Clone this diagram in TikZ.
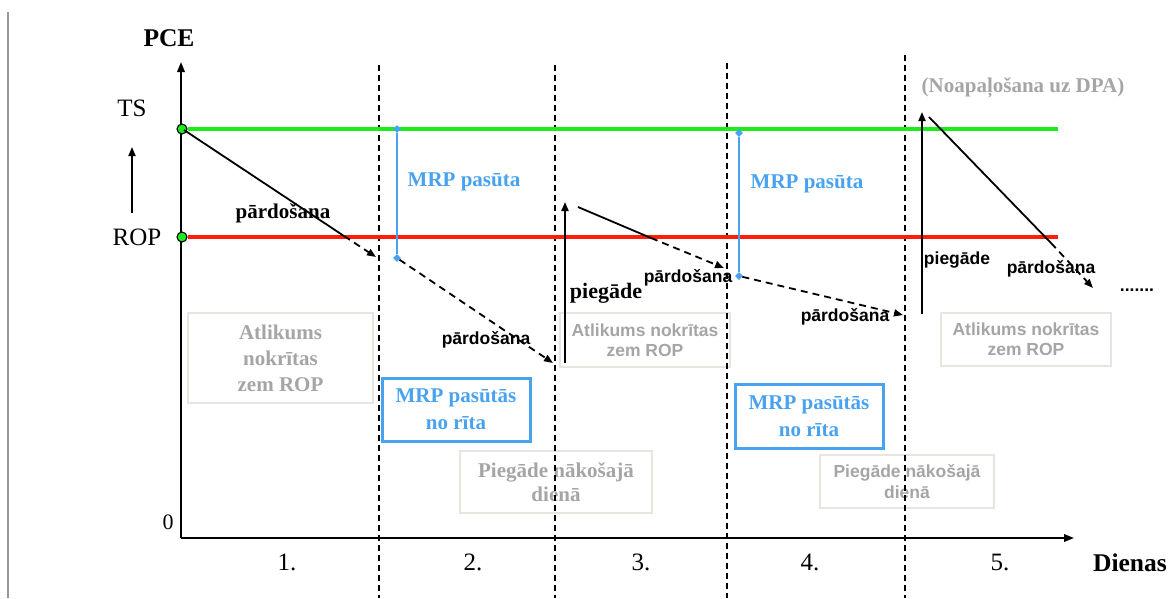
\documentclass[tikz,border=0pt]{standalone}
\usepackage{fontspec}
\setmainfont{Liberation Serif}
\newfontfamily\arialfont{Liberation Sans}
\usetikzlibrary{arrows.meta,shapes.geometric}
\definecolor{mrpblue}{RGB}{72,162,240}
\definecolor{tsgreen}{RGB}{30,235,30}
\definecolor{ropred}{RGB}{255,30,10}
\definecolor{notegray}{RGB}{165,165,165}
\definecolor{boxgray}{RGB}{232,229,225}
\definecolor{framegray}{RGB}{150,150,150}
\begin{document}
\begin{tikzpicture}[x=1pt,y=-1pt,
  tipped/.style={-{Triangle[length=9pt,width=7pt]}},
  axisline/.style={line width=1.9pt,-{Triangle[length=10pt,width=7.5pt]}},
  daysep/.style={line width=1.4pt,dash pattern=on 6pt off 4pt},
  saleline/.style={line width=1.8pt},
  saledash/.style={line width=1.8pt,dash pattern=on 7pt off 5pt,tipped},
  levelline/.style={line width=3.2pt},
  mrpline/.style={mrpblue,line width=2pt},
  mrpdot/.style={diamond,fill=mrpblue,inner sep=0pt,minimum size=8pt},
  levdot/.style={circle,draw=black,fill=tsgreen,line width=1.1pt,inner sep=0pt,minimum size=10pt},
  biglabel/.style={font=\fontsize{25}{28}\selectfont},
  serifbold/.style={font=\fontsize{21}{25}\selectfont\bfseries},
  sansbold/.style={font=\arialfont\fontsize{17.5}{20}\selectfont\bfseries},
  graynote/.style={draw=boxgray,line width=1.8pt,align=center,text=notegray,inner sep=0pt},
  mrpbox/.style={draw=mrpblue,line width=3pt,align=center,text=mrpblue,inner sep=0pt,
    font=\fontsize{21}{27}\selectfont\bfseries},
]
\useasboundingbox (0,0) rectangle (1173,598);

% frame edge on the left
\draw[framegray,line width=1.5pt] (8,12) -- (8,598);

% note boxes (drawn first so the day separators cross them)
\node[graynote,minimum width=185pt,minimum height=90pt,font=\fontsize{21}{26}\selectfont\bfseries]
  (noteA) at (280.5,358) {Atlikums\\nokrītas\\zem ROP};
\node[mrpbox,minimum width=148pt,minimum height=63pt] (orderA) at (456,409.5) {MRP pasūtās\\no rīta};
\node[graynote,minimum width=192pt,minimum height=62pt,font=\fontsize{21}{24}\selectfont\bfseries]
  (delivA) at (556,482) {Piegāde nākošajā\\dienā};
\node[graynote,minimum width=170pt,minimum height=54pt,font=\arialfont\fontsize{17.5}{20}\selectfont\bfseries]
  (noteB) at (645,340) {Atlikums nokrītas\\zem ROP};
\node[mrpbox,minimum width=148pt,minimum height=64pt] (orderB) at (809,416) {MRP pasūtās\\no rīta};
\node[graynote,minimum width=174pt,minimum height=53pt,font=\arialfont\fontsize{17.5}{21}\selectfont\bfseries]
  (delivB) at (907,481.5) {Piegāde nākošajā\\dienā};
\node[graynote,minimum width=170pt,minimum height=53pt,font=\arialfont\fontsize{17.5}{20}\selectfont\bfseries]
  (noteC) at (1026,339.5) {Atlikums nokrītas\\zem ROP};

% axes
\coordinate (origin) at (181,538);
\coordinate (ytop) at (181,62);
\coordinate (xend) at (1074,538);
\draw[axisline] (origin) -- (ytop);
\draw[axisline] (origin) -- (xend);

% day separators
\foreach \x/\top [count=\i] in {379/65,555/65,727/63,905/55}{
  \coordinate (sepT\i) at (\x,\top);
  \coordinate (sepB\i) at (\x,598);
  \draw[daysep] (sepT\i) -- (sepB\i);
}

% safety stock and reorder point levels
\node[levdot] (tsdot) at (182,129) {};
\node[levdot] (ropdot) at (182,237) {};
\coordinate (tsend) at (1058,129);
\coordinate (ropend) at (1058,237);
\draw[levelline,tsgreen] (tsdot.east) -- (tsend);
\draw[levelline,ropred] (ropdot.east) -- (ropend);

% axis and level labels
\node[font=\fontsize{25.5}{28}\selectfont\bfseries] (pce) at (169,38) {PCE};
\node[biglabel] (ts) at (132,108) {TS};
\node[biglabel] (rop) at (137,237) {ROP};
\coordinate (upA) at (132,213);
\coordinate (upB) at (132,147);
\draw[line width=1.8pt,tipped] (upA) -- (upB);
\node[font=\fontsize{22}{26}\selectfont] (zero) at (168,522) {0};
\foreach \x [count=\i] in {287,473,641,810,1000}{
  \node[font=\fontsize{25}{28}\selectfont] (day\i) at (\x,562) {\i.};
}
\node[font=\fontsize{25.5}{28}\selectfont\bfseries] (dienas) at (1130,563) {Dienas};

% day 1: sales from the safety stock level
\coordinate (s1a) at (184,130);
\coordinate (s1b) at (344,236);
\coordinate (s1c) at (376,257);
\draw[saleline] (s1a) -- (s1b);
\draw[saledash] (s1b) -- (s1c);
\node[serifbold] (sale1) at (283,213) {pārdošana};

% day 2: MRP order and further sales
\node[mrpdot] (m1t) at (397,129) {};
\node[mrpdot] (m1b) at (397,258) {};
\draw[mrpline] (m1t) -- (m1b);
\node[serifbold,text=mrpblue] (mrp1) at (464,182) {MRP pasūta};
\coordinate (s2c) at (553,363);
\draw[saledash] (m1b) -- (s2c);
\node[sansbold] (sale2) at (486,340) {pārdošana};

% day 3: delivery and sales
\coordinate (d1a) at (565,363);
\coordinate (d1b) at (565,202);
\draw[line width=1.9pt,tipped] (d1a) -- (d1b);
\node[serifbold,font=\fontsize{22}{25}\selectfont\bfseries] (deliv1) at (606,293) {piegāde};
\coordinate (s3a) at (578,207);
\coordinate (s3b) at (651,238);
\coordinate (s3c) at (724,268);
\draw[saleline] (s3a) -- (s3b);
\draw[saledash] (s3b) -- (s3c);
\node[sansbold] (sale3) at (688,278) {pārdošana};

% day 4: MRP order and sales
\node[mrpdot] (m2t) at (739,133) {};
\node[mrpdot] (m2b) at (739,276) {};
\draw[mrpline] (m2t) -- (m2b);
\node[serifbold,text=mrpblue] (mrp2) at (807,184) {MRP pasūta};
\coordinate (s4c) at (903,315);
\draw[saledash] (m2b) -- (s4c);
\node[sansbold] (sale4) at (845,317) {pārdošana};

% day 5: rounded delivery and sales
\node[font=\fontsize{21}{25}\selectfont\bfseries,text=notegray] (round) at (1023,88) {(Noapaļošana uz DPA)};
\coordinate (d2a) at (922,314);
\coordinate (d2b) at (922,112);
\draw[line width=1.9pt,tipped] (d2a) -- (d2b);
\node[sansbold] (deliv2) at (957,260) {piegāde};
\coordinate (s5a) at (929,117);
\coordinate (s5b) at (1051,243);
\coordinate (s5c) at (1093,288);
\draw[saleline] (s5a) -- (s5b);
\draw[saledash] (s5b) -- (s5c);
\node[sansbold] (sale5) at (1051,269) {pārdošana};
\node[sansbold] (more) at (1137,290) {.......};
\end{tikzpicture}
\end{document}
